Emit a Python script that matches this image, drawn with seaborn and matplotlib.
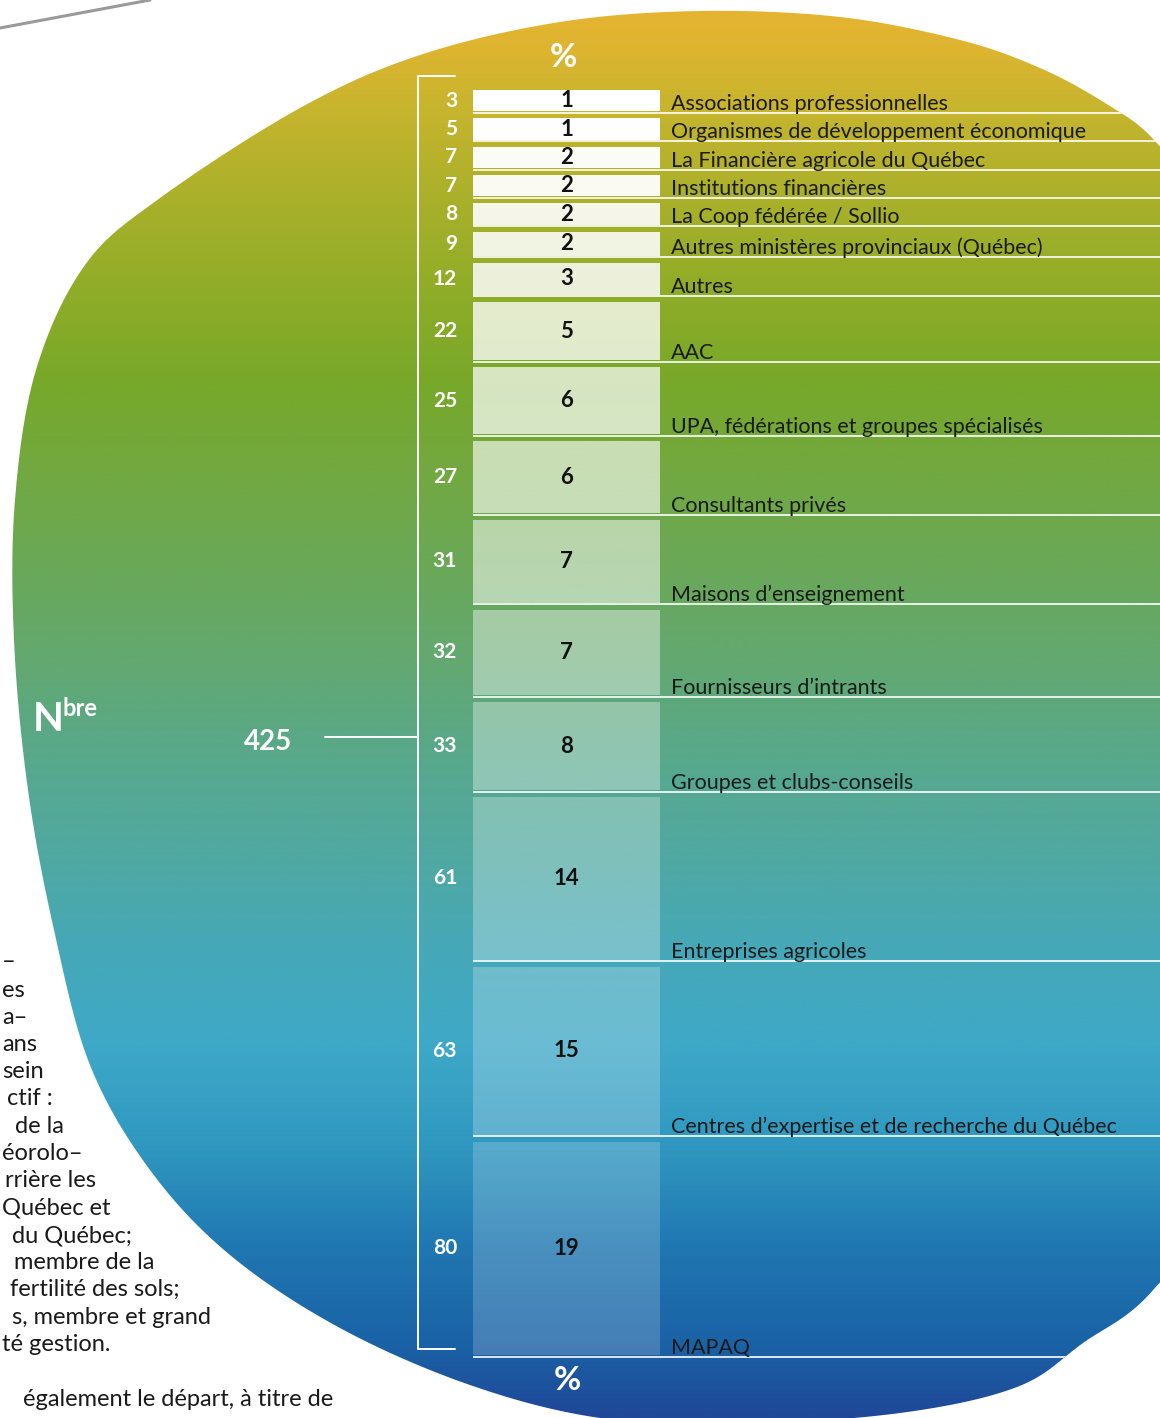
import numpy as np
import pandas as pd
import seaborn as sns
import matplotlib.pyplot as plt
from matplotlib.colors import LinearSegmentedColormap, to_rgba
from matplotlib.path import Path
from matplotlib.patches import PathPatch

# Data (top to bottom)
categories = [
    "Associations professionnelles",
    "Organismes de développement économique",
    "La Financière agricole du Québec",
    "Institutions financières",
    "La Coop fédérée / Sollio",
    "Autres ministères provinciaux (Québec)",
    "Autres",
    "AAC",
    "UPA, fédérations et groupes spécialisés",
    "Consultants privés",
    "Maisons d\u2019enseignement",
    "Fournisseurs d\u2019intrants",
    "Groupes et clubs-conseils",
    "Entreprises agricoles",
    "Centres d\u2019expertise et de recherche du Québec",
    "MAPAQ",
]
counts = [3, 5, 7, 7, 8, 9, 12, 22, 25, 27, 31, 32, 33, 61, 63, 80]
percents = [1, 1, 2, 2, 2, 2, 3, 5, 6, 6, 7, 7, 8, 14, 15, 19]

body_lines = [
    "\u2013", "es", "a\u2013", "ans", "sein", "ctif :", "de la", "éorolo\u2013",
    "rrière les", "Québec et", "du Québec;", "membre de la",
    "fertilité des sols;", "s, membre et grand", "té gestion.",
    "également le départ, à titre de",
]

df = pd.DataFrame({"cat": categories, "n": counts, "pct": percents})

sns.set_theme(style="white")
plt.rcParams['font.family'] = ['Lato', 'DejaVu Sans']

W, H = 1160, 1418
fig = plt.figure(figsize=(W / 100, H / 100), dpi=100)
fig.patch.set_facecolor("white")

# background axes in pixel units
bg = fig.add_axes([0, 0, 1, 1])
bg.set_xlim(0, W)
bg.set_ylim(H, 0)
bg.axis("off")


def smooth_closed(pts, n=30):
    P = np.array(pts, float)
    m = len(P)
    out = []
    t = np.linspace(0, 1, n, endpoint=False)[:, None]
    for i in range(m):
        p0, p1, p2, p3 = P[i - 1], P[i], P[(i + 1) % m], P[(i + 2) % m]
        out.append(0.5 * (2 * p1 + (-p0 + p2) * t + (2 * p0 - 5 * p1 + 4 * p2 - p3) * t ** 2
                          + (-p0 + 3 * p1 - 3 * p2 + p3) * t ** 3))
    return np.vstack(out)


blob_pts = [(160, 198), (300, 108), (420, 55), (560, 22), (700, 11),
            (840, 17), (960, 40), (1040, 68), (1105, 103), (1154, 140), (1200, 210),
            (1260, 420), (1270, 800), (1240, 1160), (1154, 1289), (1083, 1343), (1017, 1387),
            (900, 1413), (740, 1424), (600, 1418), (470, 1385), (340, 1328), (230, 1255),
            (150, 1170), (90, 1065), (54, 930), (28, 790), (14, 640), (15, 500), (36, 370),
            (85, 265)]
blob_xy = smooth_closed(blob_pts)
blob = PathPatch(Path(np.vstack([blob_xy, blob_xy[:1]]), closed=True),
                 transform=bg.transData, facecolor="none", edgecolor="none")
bg.add_patch(blob)

stops = [(0.00, "#e6b532"), (0.03, "#dfb430"), (0.07, "#c9b52e"), (0.14, "#a9b02a"),
         (0.21, "#8dac28"), (0.27, "#77a82a"), (0.33, "#72a840"), (0.40, "#6aa858"),
         (0.47, "#62a872"), (0.53, "#58a88a"), (0.60, "#50a8a0"), (0.67, "#46a8b8"),
         (0.74, "#3ea8c8"), (0.81, "#3098c0"), (0.88, "#2078b2"), (0.95, "#1a62a6"),
         (1.00, "#1f4898")]
cmap = LinearSegmentedColormap.from_list("blob", stops)
grad = np.linspace(0, 1, 600)[:, None]
im = bg.imshow(grad, cmap=cmap, aspect="auto", extent=[0, W, H, 0], zorder=1)
im.set_clip_path(blob)

# grey rule top-left
bg.plot([0, 150], [28, 0], color="#9a9a9a", lw=2.2, zorder=2)

# bar axes: y in count units
k = 2.667          # px per unit
gap_px = 7
min_units = 8
y0_px = 90
ax = fig.add_axes([0, 0, 1, 1])
ax.set_xlim(0, W)
ax.set_ylim((H - y0_px) / k, -y0_px / k)
ax.axis("off")
ax.patch.set_visible(False)

heights = np.maximum(df["n"].values, min_units)
gap_u = gap_px / k
bottoms = np.concatenate([[0], np.cumsum(heights + gap_u)[:-1]])
ends = bottoms + heights
alphas = [1.0, 1.0, 0.97, 0.95, 0.9, 0.87, 0.83, 0.77, 0.71, 0.61, 0.52, 0.41, 0.34, 0.28,
          0.23, 0.19]
bar_x, bar_w = 473, 187
ax.bar(np.full(len(df), bar_x), heights, width=bar_w, bottom=bottoms, align="edge",
       color=[to_rgba("white", a) for a in alphas], linewidth=0, zorder=3)

line_y = ends + 1.5 / k
lines = ax.hlines(line_y, bar_x, W + 20, color="white", lw=1.4, alpha=0.85, zorder=3)
lines.set_clip_path(blob)

for i, row in df.iterrows():
    mid = bottoms[i] + heights[i] / 2
    ax.text(457, mid, str(row["n"]), ha="right", va="center", color="white",
            fontsize=15, fontweight="bold", zorder=5)
    ax.text(bar_x + bar_w / 2, mid, str(row["pct"]), ha="center", va="center",
            color="#111111", fontsize=16, fontweight="bold", zorder=5)
    ax.text(671, line_y[i] - 3 / k, row["cat"], ha="left", va="baseline",
            color="#1a1a1a", fontsize=15.5, zorder=5)

# bracket and total
wline = dict(color="white", lw=1.4, zorder=4)
bg.plot([455, 418, 418, 455], [76, 76, 1349, 1349], **wline)
bg.plot([325, 418], [737, 737], **wline)
bg.text(268, 750, str(df["n"].sum()), ha="center", va="baseline", color="white",
        fontsize=20, fontweight="bold", zorder=5)
bg.text(33, 731, "N", ha="left", va="baseline", color="white", fontsize=29,
        fontweight="bold", zorder=5)
bg.text(63, 716, "bre", ha="left", va="baseline", color="white", fontsize=17,
        fontweight="bold", zorder=5)
bg.text(563, 67, "%", ha="center", va="baseline", color="white", fontsize=24,
        fontweight="bold", zorder=5)
bg.text(567, 1390, "%", ha="center", va="baseline", color="white", fontsize=24,
        fontweight="bold", zorder=5)

# cut-off body text on the left (kept fully inside the canvas)
body_right = [6, 14, 20, 29, 40, 53, 64, 79, 96, 111, 132, 154, 180, 211, 111, 333]
body_base = [968, 997, 1024, 1051, 1078, 1105, 1133, 1160, 1187, 1214, 1242, 1269,
             1296, 1324, 1351, 1406]
renderer = fig.canvas.get_renderer()
for txt, xr, yb in zip(body_lines, body_right, body_base):
    t = bg.text(xr, yb, txt, ha="right", va="baseline", color="#1a1a1a", fontsize=17,
                zorder=5)
    if t.get_window_extent(renderer).x0 < 2:
        t.set_ha("left")
        t.set_x(2)

fig.savefig("out.png", dpi=100)
